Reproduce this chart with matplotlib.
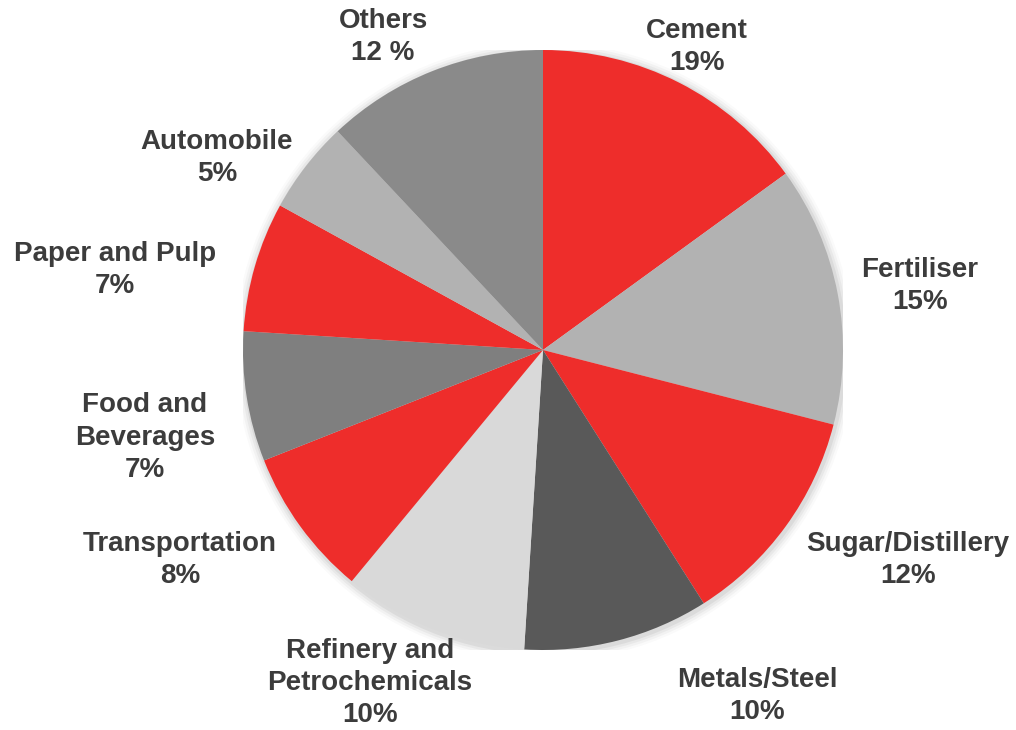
import matplotlib
matplotlib.use("Agg")
import matplotlib.pyplot as plt
from matplotlib.patches import Circle

# ---- data ----
categories = ["Cement", "Fertiliser", "Sugar/Distillery", "Metals/Steel",
              "Refinery and\nPetrochemicals", "Transportation",
              "Food and\nBeverages", "Paper and Pulp", "Automobile", "Others"]
# slice sizes as drawn (measured from wedge angles)
slice_shares = [15, 14, 12, 10, 10, 8, 7, 7, 5, 12]
# percentage texts as printed on the chart
label_texts = ["19%", "15%", "12%", "10%", "10%", "8%", "7%", "7%", "5%", "12 %"]

colors = ["#EE2D2B", "#B2B2B2", "#EE2D2B", "#595959", "#D9D9D9",
          "#EE2D2B", "#7F7F7F", "#EE2D2B", "#B2B2B2", "#8A8A8A"]

# label centre positions (in pie-radius units, relative to pie centre)
label_pos = [(0.513, 1.01), (1.257, 0.213), (1.217, -0.70), (0.713, -1.153),
             (-0.577, -1.11), (-1.21, -0.70), (-1.327, -0.293),
             (-1.427, 0.267), (-1.087, 0.64), (-0.533, 1.043)]

fig = plt.figure(figsize=(10.16, 7.30), dpi=100)
ax = fig.add_axes([243 / 1016, 80 / 730, 600 / 1016, 600 / 730])

# soft shadow
for i, a in enumerate([0.05, 0.04, 0.03, 0.02]):
    ax.add_patch(Circle((0.004, -0.006), 1.0 + 0.008 * (i + 1),
                        facecolor="#000000", alpha=a, edgecolor="none", zorder=0))

wedges, _ = ax.pie(slice_shares, colors=colors, startangle=90, counterclock=False,
                   radius=1.0, wedgeprops=dict(linewidth=0, edgecolor="none"))
for w in wedges:
    w.set_zorder(2)

for cat, txt, (x, y) in zip(categories, label_texts, label_pos):
    ax.text(x, y, f"{cat}\n{txt}", ha="center", va="center", multialignment="center",
            fontsize=20, fontweight="bold", family="Liberation Sans",
            color="#3C3C3C", linespacing=1.32, zorder=3)

ax.set_xlim(-1, 1)
ax.set_ylim(-1, 1)
ax.set_aspect("equal")
ax.axis("off")

fig.savefig("out.png", dpi=100)
